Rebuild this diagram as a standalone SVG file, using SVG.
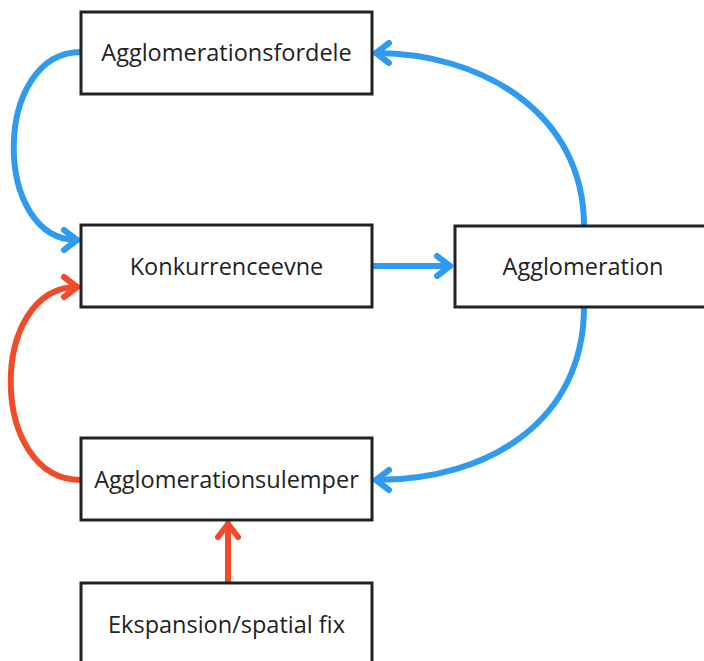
<svg xmlns="http://www.w3.org/2000/svg" width="704" height="661" viewBox="0 0 704 661">
<defs>
<style>
.box{fill:#fff;stroke:#222;stroke-width:3}
.lbl{font-family:"Open Sans","Noto Sans",sans-serif;font-size:23.5px;fill:#222;text-anchor:middle;dominant-baseline:central}
.b{fill:none;stroke:#2f9bf0;stroke-width:6;stroke-linecap:round}
.r{fill:none;stroke:#f24b2a;stroke-width:6;stroke-linecap:round}
</style>
<marker id="ab" markerUnits="userSpaceOnUse" viewBox="-18 -14 22 28" refX="0" refY="0" markerWidth="22" markerHeight="28" orient="auto">
<path d="M-13,-10 L0,0 L-13,10" fill="none" stroke="#2f9bf0" stroke-width="6" stroke-linecap="round" stroke-linejoin="round"/>
</marker>
<marker id="ar" markerUnits="userSpaceOnUse" viewBox="-18 -14 22 28" refX="0" refY="0" markerWidth="22" markerHeight="28" orient="auto">
<path d="M-13,-10 L0,0 L-13,10" fill="none" stroke="#f24b2a" stroke-width="6" stroke-linecap="round" stroke-linejoin="round"/>
</marker>
</defs>
<rect width="704" height="661" fill="#fff"/>
<g id="connectors">
<path class="b" d="M81,52 C-8,52 -8,240 77,240" marker-end="url(#ab)"/>
<path class="r" d="M81,480 C-12,480 -12,287 77,287" marker-end="url(#ar)"/>
<path class="b" d="M584,226 C584,112 480,53 376,53" marker-end="url(#ab)"/>
<path class="b" d="M584,307 C584,420 490,480 376,480" marker-end="url(#ab)"/>
<path class="b" d="M372,266 L450,266" marker-end="url(#ab)"/>
<path class="r" d="M228,583 L228,524" marker-end="url(#ar)"/>
</g>
<g id="n1"><rect class="box" x="81" y="12" width="291" height="82"/><text class="lbl" x="226.5" y="52">Agglomerationsfordele</text></g>
<g id="n2"><rect class="box" x="81" y="225" width="291" height="82"/><text class="lbl" x="226.5" y="266">Konkurrenceevne</text></g>
<g id="n3"><rect class="box" x="455" y="226" width="260" height="81"/><text class="lbl" x="583" y="266">Agglomeration</text></g>
<g id="n4"><rect class="box" x="81" y="438" width="291" height="82"/><text class="lbl" x="226.5" y="479">Agglomerationsulemper</text></g>
<g id="n5"><rect class="box" x="81" y="583" width="291" height="90"/><text class="lbl" x="226.5" y="624">Ekspansion/spatial fix</text></g>
</svg>
